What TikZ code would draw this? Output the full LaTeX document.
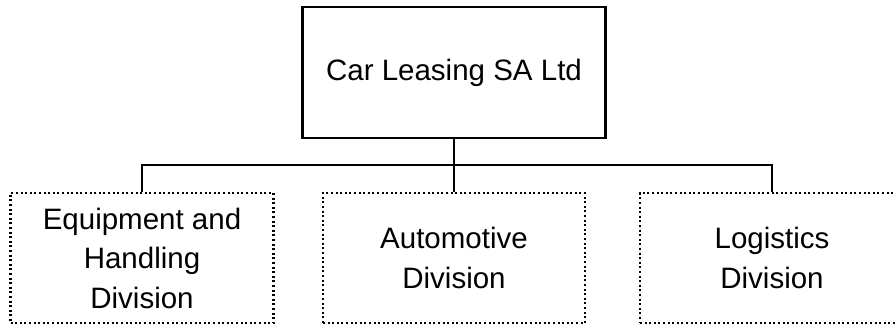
\documentclass[tikz,border=0pt]{standalone}
\usepackage{fontspec}
\setmainfont{Liberation Sans}
\begin{document}
\begin{tikzpicture}[x=1pt,y=-1pt,
  every node/.style={font=\fontsize{29.5}{39.5}\selectfont, align=center, inner sep=0pt},
  headbox/.style={draw, line width=2.2pt, minimum width=303pt, minimum height=131pt},
  divbox/.style={draw, line width=2.2pt, dash pattern=on 2pt off 2.6pt, minimum width=263pt, minimum height=130pt},
  link/.style={line width=2.2pt}]
  \useasboundingbox (0,0) rectangle (896,327);
  \clip (0,0) rectangle (896,327);
  \node[headbox] (top) at (454,72.5) {Car Leasing SA Ltd};
  \node[divbox] (left) at (142,258) {Equipment and\\Handling\\Division};
  \node[divbox, minimum width=262pt] (mid) at (454,258) {Automotive\\Division};
  \node[divbox, minimum width=264pt] (right) at (772,258) {Logistics\\Division};
  \coordinate (bus) at (0,165);
  \draw[link] (top.south) -- (mid.north);
  \draw[link] (left.north) -- (left.north |- bus) -- (right.north |- bus) -- (right.north);
\end{tikzpicture}
\end{document}
